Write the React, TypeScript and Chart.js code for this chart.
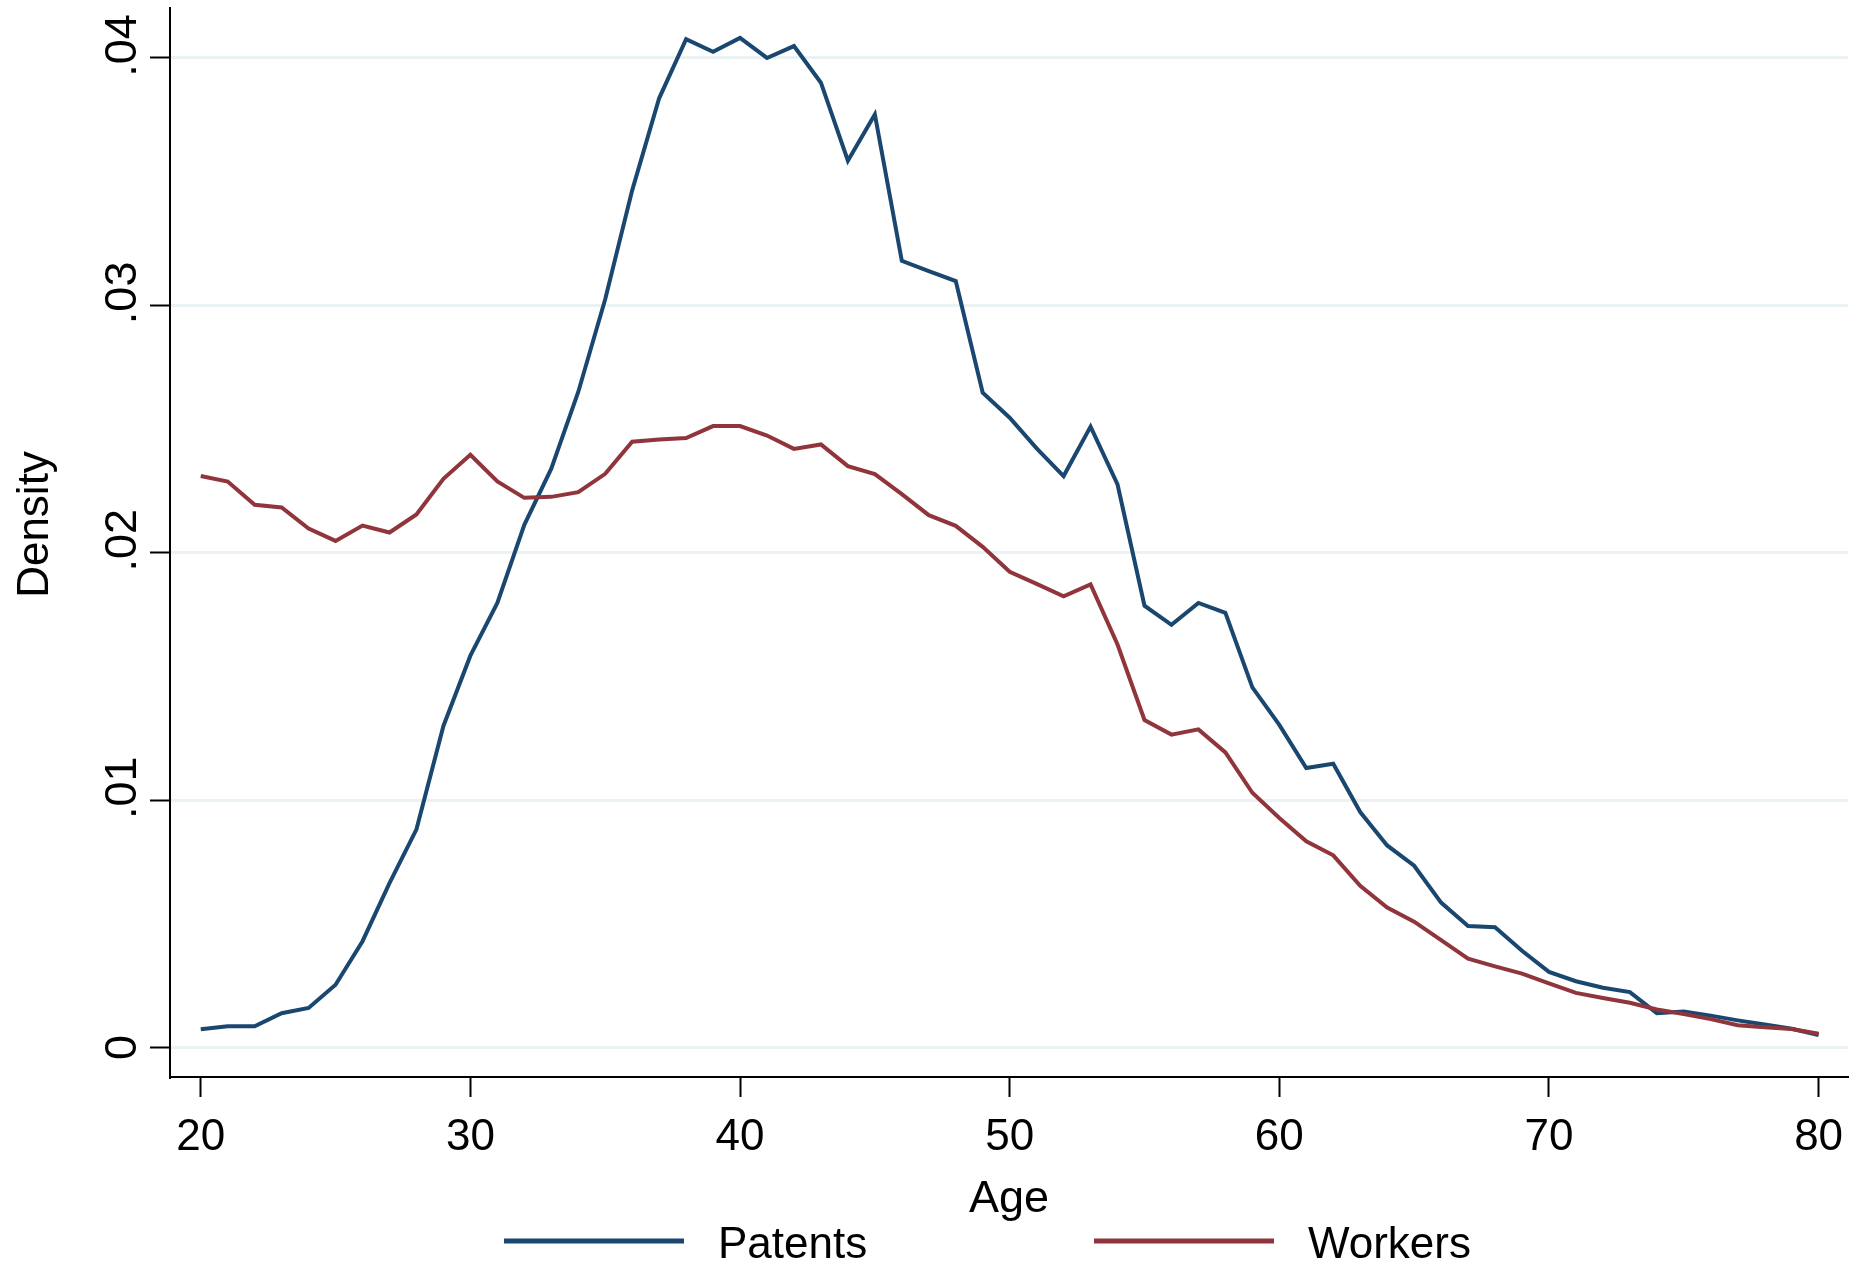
import React, { useEffect, useRef } from "react";
import { Chart, registerables } from "chart.js";

Chart.register(...registerables);

const FONT = "'Liberation Sans', Arial, Helvetica, sans-serif";

// Age of individuals (years)
const ages = [
  20, 21, 22, 23, 24, 25, 26, 27, 28, 29,
  30, 31, 32, 33, 34, 35, 36, 37, 38, 39,
  40, 41, 42, 43, 44, 45, 46, 47, 48, 49,
  50, 51, 52, 53, 54, 55, 56, 57, 58, 59,
  60, 61, 62, 63, 64, 65, 66, 67, 68, 69,
  70, 71, 72, 73, 74, 75, 76, 77, 78, 79,
  80,
];

// Density of inventors' age at patent application
const patents = [
  0.00074, 0.00086, 0.00086, 0.00139, 0.0016, 0.00254, 0.0043, 0.00665, 0.00882, 0.013,
  0.01584, 0.01797, 0.02113, 0.0234, 0.0265, 0.03025, 0.03465, 0.03837, 0.04076, 0.04025,
  0.04081, 0.04, 0.04048, 0.039, 0.03585, 0.03772, 0.0318, 0.03138, 0.03098, 0.02647,
  0.02546, 0.02422, 0.0231, 0.0251, 0.02276, 0.01786, 0.01709, 0.01797, 0.01757, 0.01456,
  0.01304, 0.0113, 0.01147, 0.00952, 0.00817, 0.00735, 0.00586, 0.00491, 0.00486, 0.00391,
  0.00306, 0.00268, 0.00242, 0.00224, 0.00139, 0.00146, 0.00129, 0.0011, 0.00093, 0.00076,
  0.00051,
];

// Density of workers' age
const workers = [
  0.0231, 0.02288, 0.02194, 0.02183, 0.02098, 0.02048, 0.0211, 0.02082, 0.02155, 0.02299,
  0.02396, 0.02288, 0.02222, 0.02226, 0.02245, 0.02319, 0.02449, 0.02458, 0.02464, 0.02512,
  0.02512, 0.02474, 0.0242, 0.02438, 0.0235, 0.02318, 0.02237, 0.02152, 0.02109, 0.02024,
  0.01923, 0.01874, 0.01824, 0.01872, 0.01629, 0.01324, 0.01265, 0.01286, 0.01193, 0.0103,
  0.00928, 0.00834, 0.00777, 0.00654, 0.00566, 0.00509, 0.00434, 0.00359, 0.00328, 0.00299,
  0.00259, 0.00221, 0.002, 0.00181, 0.00154, 0.00136, 0.00115, 0.0009, 0.00082, 0.00075,
  0.00056,
];

const xTicks = [20, 30, 40, 50, 60, 70, 80];
const yTicks = [0, 0.01, 0.02, 0.03, 0.04];
const yTickLabels = ["0", ".01", ".02", ".03", ".04"];
const seriesNames = ["Patents", "Workers"];
const seriesColors = ["#1a476f", "#90353b"];
const xTitle = "Age";
const yTitle = "Density";

// Stata-style text: rotated y tick labels, axis titles and the bottom legend
const stataText = {
  id: "stataText",
  afterDraw(chart: any) {
    const { ctx, chartArea: a, scales } = chart;
    const ys = scales.y;
    ctx.save();
    ctx.fillStyle = "#000";
    ctx.textBaseline = "alphabetic";

    // y tick labels, reading bottom to top
    ctx.font = `45px ${FONT}`;
    ctx.textAlign = "center";
    yTicks.forEach((v, i) => {
      const label = yTickLabels[i];
      const py = ys.getPixelForValue(v);
      const shift = label.startsWith(".") ? ctx.measureText(".").width : 0;
      ctx.save();
      ctx.translate(a.left - 34, py);
      ctx.rotate(-Math.PI / 2);
      ctx.fillText(label, shift, 0);
      ctx.restore();
    });

    // y title
    ctx.font = `44px ${FONT}`;
    ctx.save();
    ctx.translate(a.left - 122, (a.top + a.bottom) / 2 - 18);
    ctx.rotate(-Math.PI / 2);
    ctx.fillText(yTitle, 0, 0);
    ctx.restore();

    // x title
    ctx.font = `45px ${FONT}`;
    ctx.fillText(xTitle, (a.left + a.right) / 2, a.bottom + 135);

    // legend
    ctx.font = `44px ${FONT}`;
    ctx.textAlign = "left";
    const swatchStarts = [a.left + 334, a.left + 924];
    const swatchW = 180;
    const swatchY = a.bottom + 164;
    seriesNames.forEach((name, i) => {
      const sx = swatchStarts[i];
      ctx.strokeStyle = seriesColors[i];
      ctx.lineWidth = 5;
      ctx.lineCap = "butt";
      ctx.beginPath();
      ctx.moveTo(sx, swatchY);
      ctx.lineTo(sx + swatchW, swatchY);
      ctx.stroke();
      ctx.fillText(name, sx + swatchW + 34, a.bottom + 181);
    });
    ctx.restore();
  },
};

export default function App() {
  const canvasRef = useRef<HTMLCanvasElement | null>(null);

  useEffect(() => {
    const canvas = canvasRef.current;
    if (!canvas) return;
    Chart.defaults.font.family = FONT;

    const toPoints = (vals: number[]) => ages.map((x, i) => ({ x, y: vals[i] }));

    const chart = new Chart(canvas, {
      type: "line",
      data: {
        datasets: [
          {
            label: seriesNames[0],
            data: toPoints(patents),
            borderColor: seriesColors[0],
            backgroundColor: seriesColors[0],
            borderWidth: 4,
            pointRadius: 0,
            tension: 0,
            fill: false,
            order: 1,
          },
          {
            label: seriesNames[1],
            data: toPoints(workers),
            borderColor: seriesColors[1],
            backgroundColor: seriesColors[1],
            borderWidth: 4,
            pointRadius: 0,
            tension: 0,
            fill: false,
            order: 0,
          },
        ],
      },
      options: {
        responsive: false,
        animation: false,
        devicePixelRatio: 1,
        layout: { padding: { left: 0, top: 8, right: 4, bottom: 0 } },
        plugins: {
          legend: { display: false },
          tooltip: { enabled: false },
        },
        scales: {
          x: {
            type: "linear",
            min: 18.86,
            max: 81.09,
            afterBuildTicks: (scale: any) => {
              scale.ticks = xTicks.map((v) => ({ value: v }));
            },
            afterFit: (scale: any) => {
              scale.height = 189;
              scale.paddingLeft = 0;
              scale.paddingRight = 0;
            },
            grid: {
              display: true,
              drawOnChartArea: false,
              drawTicks: true,
              tickLength: 20,
              tickColor: "#000",
              tickWidth: 2,
            },
            border: { display: true, color: "#000", width: 2 },
            ticks: {
              color: "#000",
              font: { size: 44, family: FONT },
              padding: 14,
              maxRotation: 0,
              minRotation: 0,
              callback: (v: any) => String(v),
            },
          },
          y: {
            type: "linear",
            min: -0.00119,
            max: 0.04202,
            afterBuildTicks: (scale: any) => {
              scale.ticks = yTicks.map((v) => ({ value: v }));
            },
            afterFit: (scale: any) => {
              scale.width = 170;
              scale.paddingTop = 0;
              scale.paddingBottom = 0;
            },
            grid: {
              display: true,
              drawOnChartArea: true,
              color: "#eaf2f3",
              lineWidth: 3,
              drawTicks: true,
              tickLength: 20,
              tickColor: "#000",
              tickWidth: 2,
            },
            border: { display: true, color: "#000", width: 2 },
            ticks: { display: false },
          },
        },
      },
      plugins: [stataText],
    } as any);

    return () => chart.destroy();
  }, []);

  return (
    <div
      style={{
        position: "absolute",
        left: 0,
        top: 0,
        width: 1852,
        height: 1266,
        background: "#fff",
      }}
    >
      <canvas ref={canvasRef} width={1852} height={1266} />
    </div>
  );
}
